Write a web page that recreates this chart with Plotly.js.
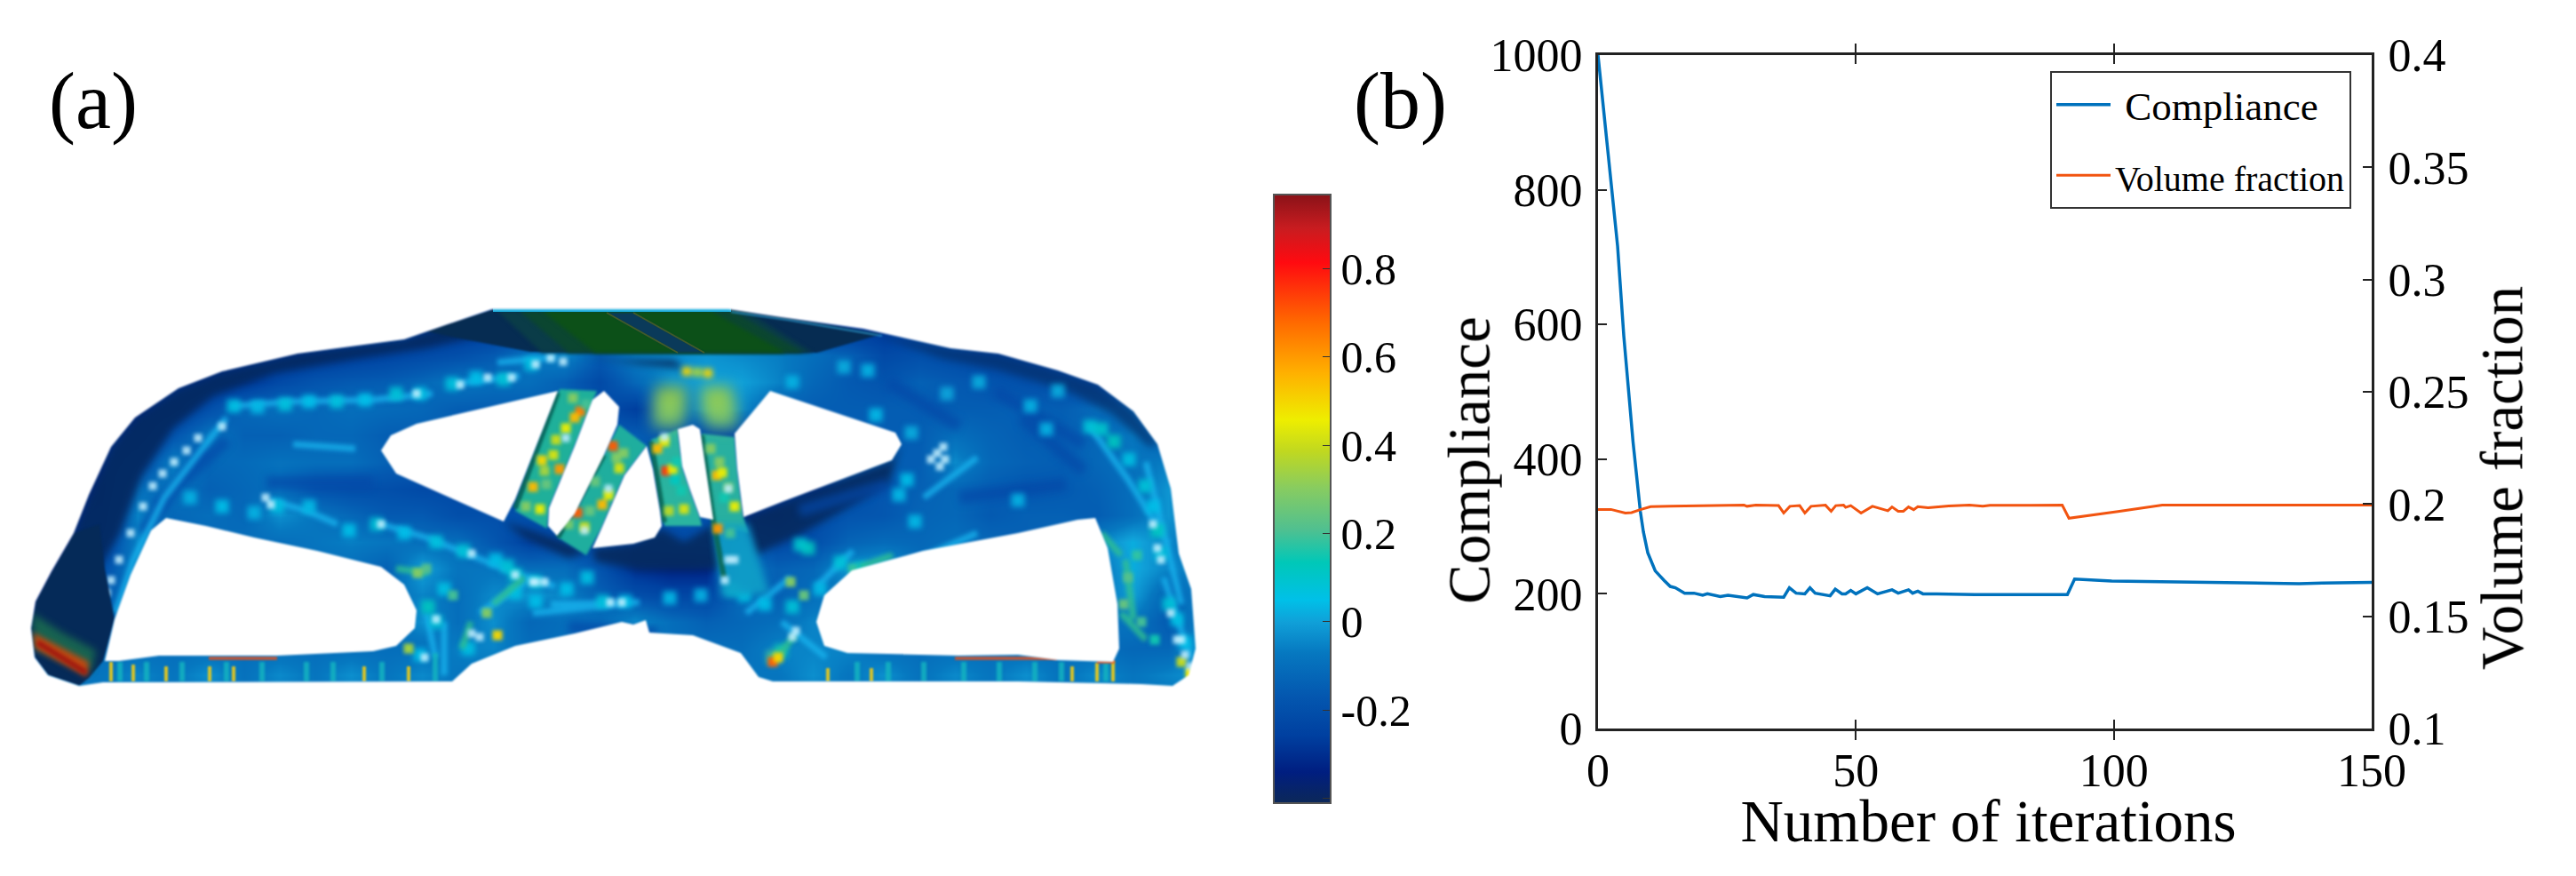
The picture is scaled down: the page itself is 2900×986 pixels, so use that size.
<!DOCTYPE html>
<html><head><meta charset="utf-8">
<script src="https://cdn.plot.ly/plotly-3.0.1.min.js"></script>
<style>html,body{margin:0;padding:0;background:#fff}#p{width:2900px;height:986px}</style>
</head><body><div id="p"></div>
<script>
// ---------- panel (b) data ----------
const compIter=[0,2,3.8,5,6.8,8.2,8.8,9.65,11.1,12.8,14,15,16.8,18.6,20.3,21.2,23.7,25.2,28.9,30.1,32.3,36,37.1,38.4,40.1,41.1,42.1,45,46,47.3,48,49,50,52.2,54.2,57,58.2,60.2,61,62,63,65.7,73,91,92.4,99.6,110,124.3,135.9,140.4,150];
const compVal=[1000,850,716,583,425,323,292,261,234,220,211,209,201,201,198,200,196,198,194,199,196,195,209,201,200,209,201,197,207,200,200,205,200,209,200,206,201,206,201,204,200,200,199,199,222,219,218,216,215,216,217];
const volIter=[0,2.5,5.3,6.5,8.2,10.2,14,19.7,28.3,28.9,30.6,35,36,37.2,39.1,40.1,41.3,44.1,45.2,46.1,47.6,48,49,51,53.2,56.2,57,58.2,59.2,60.2,61.2,62,64,68,72,74.6,76,90,91.3,100.8,105.4,109.4,150];
const volVal=[.1976,.1976,.196,.1962,.1975,.1988,.199,.1993,.1995,.199,.1995,.1993,.196,.199,.1993,.196,.199,.1995,.1968,.1993,.1995,.1985,.1993,.196,.199,.197,.1987,.1968,.1968,.1987,.1975,.1988,.1984,.1991,.1995,.199,.1994,.1995,.1937,.1967,.1982,.1995,.1995];
const xTicks=[0,50,100,150];
const yTicks=[0,200,400,600,800,1000];
const y2Ticks=[.1,.15,.2,.25,.3,.35,.4];
const y2Labels=['0.1','0.15','0.2','0.25','0.3','0.35','0.4'];

// ---------- colour scale of panel (a) ----------
const cMin=-0.41, cMax=0.9685;
const stopVal=[-.41,-.34,-.256,-.165,-.07,0,.05,.135,.21,.304,.387,.458,.565,.678,.815,.893,.9685];
const stopCol=['#0c2858','#001e80','#0040a0','#0458b0','#0678c0','#10a0d8','#00c0e8','#00c8b8','#50c090','#88cc60','#c0d820','#eeee00','#ffb000','#ff6a00','#ff0a10','#c81c20','#8a1218'];
const cbVals=[-.4,-.2,0,.2,.4,.6,.8];
const cbText=['','-0.2','0','0.2','0.4','0.6','0.8'];

// ---------- stress field of panel (a), coarse samples ----------
const fieldX=[35,75,115,155,195,235,275,315,355,395,435,475,515,555,595,635,675,715,755,795,835,875,915,955,995,1035,1075,1115,1155,1195,1235,1275,1315,1355];
const fieldY=[340,370,400,430,460,490,520,550,580,610,640,670,700,730,760,790];
const row340=[-.25,-.25,-.25,-.25,-.25,-.25,-.25,-.25,-.25,-.25,-.25,-.25,-.25,-.25,-.25,-.25,-.25,-.25,-.25,-.25,-.25,-.25,-.25,-.25,-.25,-.25,-.25,-.25,-.25,-.25,-.25,-.25,-.25,-.25];
const row370=[-.28,-.28,-.28,-.28,-.28,-.28,-.28,-.28,-.28,-.28,-.28,-.28,-.28,-.28,-.28,-.28,-.28,-.28,-.28,-.28,-.28,-.28,-.28,-.28,-.28,-.25,-.25,-.25,-.28,-.28,-.28,-.28,-.28,-.28];
const row400=[-.3,-.3,-.3,-.3,-.3,-.3,-.3,-.3,-.28,-.26,-.24,-.22,-.2,-.16,-.08,-.04,-.15,-.06,-.04,-.02,-.04,-.06,-.1,-.14,-.22,-.2,-.22,-.25,-.27,-.3,-.3,-.3,-.3,-.3];
const row430=[-.3,-.3,-.3,-.3,-.3,-.3,-.28,-.22,-.18,-.16,-.15,-.12,-.08,-.1,-.1,-.14,-.22,-.12,-.03,0,0,-.05,-.12,-.16,-.18,-.14,-.16,-.18,-.2,-.2,-.25,-.3,-.3,-.3];
const row460=[-.3,-.3,-.3,-.33,-.28,-.2,-.12,-.1,-.12,-.1,-.11,-.12,-.15,-.15,-.15,-.15,-.2,-.26,-.12,-.02,-.04,-.14,-.15,-.15,-.15,-.15,-.15,-.15,-.14,-.15,-.11,-.14,-.25,-.3];
const row490=[-.32,-.32,-.32,-.3,-.18,-.08,-.14,-.14,-.12,-.12,-.15,-.15,-.15,-.15,-.15,-.15,-.15,-.15,-.2,-.24,-.24,-.2,-.15,-.15,-.15,-.15,-.1,-.13,-.15,-.14,-.12,-.07,-.17,-.3];
const row520=[-.32,-.32,-.32,-.22,-.06,-.12,-.11,-.09,-.1,-.1,-.14,-.15,-.15,-.15,-.15,-.15,-.15,-.15,-.15,-.15,-.15,-.15,-.15,-.15,-.15,-.15,-.04,-.12,-.14,-.15,-.12,-.09,-.06,-.25];
const row550=[-.33,-.33,-.33,-.1,-.08,-.14,-.12,-.1,-.18,-.2,-.2,-.22,-.22,-.22,-.22,-.22,-.22,-.22,-.22,-.22,-.22,-.26,-.3,-.22,-.17,-.14,-.12,-.15,-.17,-.16,-.14,-.1,-.02,-.22];
const row580=[-.33,-.33,-.3,-.05,-.12,-.1,-.12,-.03,-.08,-.12,-.16,-.16,-.2,-.2,-.2,-.2,-.2,-.2,-.2,-.2,-.3,-.3,-.22,-.18,-.17,-.13,-.12,-.16,-.14,-.14,-.15,-.1,-.02,-.12];
const row610=[-.33,-.33,-.25,-.05,-.12,-.12,-.1,-.1,-.08,-.06,-.08,-.1,-.1,-.17,-.25,-.22,-.22,-.25,-.22,-.2,-.15,-.22,-.2,-.13,-.11,-.12,-.1,-.12,-.14,-.12,-.05,.02,-.05,-.08];
const row640=[-.33,-.33,-.2,-.05,-.1,-.1,-.1,-.1,-.1,-.1,-.14,0,-.08,-.08,-.1,-.1,-.18,-.3,-.33,-.33,-.08,-.14,-.12,-.02,.02,-.1,-.1,-.1,-.1,-.1,-.1,.02,-.05,-.06];
const row670=[-.33,-.33,-.15,-.1,-.1,-.1,-.1,-.1,-.1,-.1,-.1,-.05,-.1,-.04,-.03,-.05,-.14,-.2,-.23,-.23,-.1,-.14,-.1,-.06,-.1,-.1,-.1,-.1,-.1,-.1,-.1,0,-.14,-.05];
const row700=[-.3,-.3,-.12,-.1,-.1,-.1,-.1,-.1,-.1,-.1,-.1,-.03,-.1,-.03,-.12,-.1,-.1,-.03,-.1,-.14,-.12,-.1,-.05,-.06,-.1,-.1,-.1,-.1,-.1,-.1,-.1,-.08,-.16,-.04];
const row730=[-.2,-.12,-.1,-.1,-.1,-.1,-.1,-.1,-.1,-.1,-.1,-.1,-.06,-.05,-.1,-.1,-.1,-.1,-.1,-.1,-.1,-.05,-.05,-.05,-.1,-.1,-.1,-.1,-.1,-.1,-.1,-.12,-.12,0];
const row760=[-.08,-.08,-.08,-.05,-.08,-.03,-.09,-.04,-.08,-.03,-.08,-.04,-.08,-.08,-.08,-.08,-.08,-.08,-.08,-.08,-.08,-.08,-.03,-.08,-.03,-.09,-.04,-.08,-.03,-.09,-.04,-.08,-.05,-.02];
const row790=[-.08,-.08,-.08,-.08,-.08,-.08,-.08,-.08,-.08,-.08,-.08,-.08,-.08,-.08,-.08,-.08,-.08,-.08,-.08,-.08,-.08,-.08,-.08,-.08,-.08,-.08,-.08,-.08,-.08,-.08,-.08,-.08,-.08,-.08];
const fieldZ=[row340,row370,row400,row430,row460,row490,row520,row550,row580,row610,row640,row670,row700,row730,row760,row790];

// structure outline and openings
const outerX=[89,54,39,35,40,58,83,100,125,152,201,250,335,402,455,504,554,820,879,972,1070,1124,1191,1236,1276,1303,1318,1327,1341,1346,1338,1320,1285,1146,870,854,834,780,731,727,713,700,647,580,531,509,116];
const outerY=[772,760,740,707,677,643,600,557,503,470,437,418,398,389,382,365,348,348,357,370,392,398,417,433,463,500,550,623,663,730,760,772,770,767,767,762,735,715,712,698,703,700,713,727,747,767,768];
const holeX=[118,129,147,170,187,232,286,357,429,455,469,467,446,420,312,179,134,null,
 429,440,469,628,580,567,513,446,null,
 680,697,695,680,647,627,617,618,647,667,null,
 728,735,743,745,737,713,667,677,703,null,
 763,780,788,793,803,788,777,768,null,
 867,1008,1015,1004,880,837,830,827,null,
 1233,1247,1258,1260,1253,1191,1146,1079,954,928,919,928,959,1039,1146,1213];
const holeY=[744,697,647,597,583,592,605,620,638,658,687,707,727,733,738,738,744,null,
 507,490,477,440,562,587,563,533,null,
 440,458,478,512,578,603,592,572,502,450,null,
 502,528,575,592,605,612,617,595,535,null,
 483,478,483,518,585,582,552,525,null,
 440,487,500,518,565,582,528,488,null,
 583,617,680,730,745,743,737,738,735,727,700,670,642,620,600,585];

// shaded regions
const plateX=[480,510,555,823,887,993,920,597,523];
const plateY=[373,362,348,348,357,376,397,396,382];
const plate1X=[560,840,915,610]; const plate1Y=[350,350,397,397];
const plate2X=[585,825,905,640]; const plate2Y=[350,350,397,397];
const plate3X=[610,800,885,670]; const plate3Y=[350,350,397,397];
const stripeX=[683,713,793,763]; const stripeY=[352,352,397,397];
const stripeEdgeX=[683,763,null,713,793]; const stripeEdgeY=[352,397,null,352,397];
const rimTopX=[555,823,823,555]; const rimTopY=[347,347,351,351];
const rimFuzzX=[823,887,993]; const rimFuzzY=[351,360,378];
const flapX=[83,58,40,35,39,54,89,100,116,129,118,112];
const flapY=[600,643,677,707,740,760,772,763,744,697,640,590];
const flapGreenX=[36,70,108,103,38]; const flapGreenY=[690,712,732,756,730];
const flapRedX=[37,100,98,40]; const flapRedY=[712,745,762,730];
const flapCoreX=[42,97]; const flapCoreY=[723,757];
const arcLeftX=[83,100,125,152,201,250,335,402,455,504,540,480,400,310,240,195,160,135,112];
const arcLeftY=[600,557,503,470,437,418,398,389,382,365,378,392,404,420,446,482,535,600,640];
const arcRightX=[985,1070,1124,1191,1236,1276,1303,1294,1252,1202,1122,1062];
const arcRightY=[376,392,398,417,433,463,500,503,466,440,416,404];
const shadeX=[667,713,745,770,803,815,780,720,670,null,838,1004,1015,1000,900,850,null,567,640,660,640,590,null,650,700,760,770,720];
const shadeY=[617,612,595,610,590,640,642,642,632,null,582,518,500,545,602,625,null,587,612,622,628,605,null,400,405,405,415,410];
const struts1X=[630,672,647,618,616,580]; const struts1Y=[438,440,502,572,595,575];
const struts2X=[697,728,703,677,660,628,647,680]; const struts2Y=[478,502,535,595,625,605,578,512];
const struts3X=[733,763,768,777,788,790,748,743]; const struts3Y=[495,483,525,552,582,592,592,560];
const struts4X=[790,827,830,837,842,803,793]; const struts4Y=[488,492,528,582,600,592,518];
const strutFootX=[803,842,866,812]; const strutFootY=[590,590,668,672];
const strutEdgeX=[628,580,null,680,628,null,733,748,null,790,803,815];
const strutEdgeY=[442,572,null,512,605,null,497,588,null,490,585,650];

// local stress samples on the struts and the web: x, y, value
const spotX=[637,653,647,623,610,613,600,608,630,645,615,592,690,697,685,678,650,658,670,702,640,750,757,748,740,770,753,767,760,807,813,827,808,815,822,810,626,660,694,664,762,800,820,
 480,470,548,560,460,510,
 870,876,1280,1270,1265,1285,1300,960,975,890,905,1330,1340];
const spotY=[482,463,470,512,518,530,548,573,528,448,545,570,502,527,557,568,577,593,542,510,590,530,528,497,505,573,575,552,540,535,532,570,595,560,600,520,495,455,515,575,520,505,548,
 640,645,690,715,730,670,
 745,740,625,650,680,700,720,640,655,655,670,745,758];
const spotV=[.45,.65,.55,.42,.5,.35,.55,.45,.6,.3,.25,.3,.7,.42,.45,.55,.7,.4,.25,.3,.28,.75,.45,.45,.55,.42,.38,.15,.12,.55,.45,.45,.6,.15,.2,.3,.4,.2,.3,.25,.15,.3,.25,
 .22,.3,.3,.5,.35,.2,
 .7,.5,.18,.22,.25,.2,.15,.18,.2,.3,.25,.4,.45];
const broadX=[755,807,752,812]; const broadY=[452,452,465,465]; const broadV=[.36,.36,.3,.3];
const hotX=[773,797,785]; const hotY=[418,420,419]; const hotV=[.5,.5,.35];
const glowX=[263,290,321,348,379,411,446,473,509,536,567,598,214,250,286,312,348,393,424,455,491,522,558,571,580,603,580,603,500,482,491,473,527,638,661,679,1227,1240,1254,1271,1289,1298,1303,1307,1316,1325,1334,1146,1021,1012,910,901,946,968,1030,986,1026,892,950,977,1102,1160,1191,1066,1178,861,892,923,838,825,789,754,704,879,870];
const glowY=[457,458,455,452,452,450,443,443,432,425,427,410,560,570,577,570,570,597,590,600,610,620,630,637,647,655,667,677,663,683,700,737,730,663,650,677,480,483,497,517,547,570,597,623,680,697,723,563,540,557,617,613,633,640,587,467,487,430,413,417,430,457,440,443,483,680,683,663,670,663,670,673,677,733,740];
const glowV=[.06,.04,.07,.05,.07,.05,.08,.06,.07,.05,.08,.06,.03,.05,.03,.06,.04,.05,.08,.05,.07,.08,.05,.08,.1,.08,.06,.05,.06,.12,.08,.05,.06,.05,.06,.07,.08,.1,.12,.06,.08,.05,.12,.07,.08,.06,.05,.03,.05,.04,.12,.1,.08,.1,.04,.04,.02,.03,.02,.03,.02,.03,.02,.01,.03,.05,.08,.04,.06,.08,.03,.04,.05,.15,.2];
const glintX=[120,125,134,147,161,172,183,196,210,223,250,299,305,429,531,580,603,531,540,491,478,620,634,603,576,549,518,469,1055,1048,1064,1062,896,892,1303,1307,1298,1318,1334,1325,820,827,816,600,613,687,700,637,685,658,748,820,1058,1330,1340];
const glintY=[667,653,630,600,570,547,533,520,507,493,480,560,568,590,623,647,655,713,717,697,740,403,407,410,425,425,433,443,510,517,517,503,710,717,617,630,590,690,737,720,630,630,653,655,655,678,678,493,550,597,492,550,525,720,750];

// streaks
const cyanX=[263,330,420,487,null,510,585,null,560,625,null,429,480,530,580,625,null,304,345,380,null,330,400,null,130,150,185,225,255,null,540,600,null,600,700,null,1227,1270,1316,null,1290,1330,null,1100,1040,null,1010,1100,null,920,960,null,840,890,null,480,490,null,500,500,null,1310,1340,null,620,720,null,880,930];
const cyanY=[457,452,450,443,null,432,423,null,408,402,null,590,605,625,645,660,null,563,575,590,null,500,505,null,690,630,560,510,470,null,690,650,null,690,680,null,480,540,613,null,520,680,null,515,560,null,640,600,null,660,620,null,690,650,null,690,740,null,700,760,null,650,740,null,680,678,null,700,740];
const deepX=[1000,1080,null,1120,1220,null,900,1000,null,1080,1200,null,640,740,null,300,420,null,160,230,null,1150,1220,null,175,255];
const deepY=[430,480,null,440,500,null,575,545,null,560,545,null,706,712,null,543,543,null,600,505,null,470,530,null,570,495];
const greenX=[1267,1276,null,446,482,null,968,1005,null,870,895,null,1240,1262,null,555,590,null,530,520,null,1262,1290];
const greenY=[630,697,null,640,645,null,638,625,null,745,715,null,600,625,null,680,650,null,700,730,null,690,720];
const barX=[135,135,null,165,165,null,205,205,null,255,255,null,295,295,null,345,345,null,375,375,null,430,430,null,490,490,null,965,965,null,1000,1000,null,1040,1040,null,1085,1085,null,1125,1125,null,1165,1165,null,1195,1195,null,1245,1245];
const barY=[745,767,null,745,767,null,745,767,null,745,767,null,745,767,null,745,767,null,745,767,null,745,767,null,735,767,null,745,767,null,745,767,null,745,767,null,745,767,null,745,767,null,745,767,null,745,767,null,745,767];
const barHotX=[125,125,null,150,150,null,187,187,null,236,236,null,263,263,null,410,410,null,460,460,null,932,932,null,981,981,null,1207,1207,null,1235,1235,null,1253,1253,null,1338,1338];
const barHotY=[745,767,null,748,767,null,750,767,null,750,767,null,750,767,null,750,767,null,750,767,null,752,767,null,752,767,null,750,767,null,746,767,null,744,767,null,752,767];
const edgeHotX=[235,312,null,1075,1190,null,1235,1255];
const edgeHotY=[741,741,null,741,741,null,745,745];

const panelLabels=['(a)','(b)'];

const cs=stopVal.map((v,i)=>[(v-cMin)/(cMax-cMin),stopCol[i]]);
const poly=(x,y,color,op)=>({type:'scatter',mode:'lines',x,y,xaxis:'x3',yaxis:'y3',fill:'toself',fillcolor:color,line:{width:0,color},opacity:op,showlegend:false,hoverinfo:'skip'});
const streak=(x,y,color,w,op)=>({type:'scatter',mode:'lines',x,y,xaxis:'x3',yaxis:'y3',line:{color,width:w},opacity:op,showlegend:false,hoverinfo:'skip',connectgaps:false});
const pts=(x,y,v,size,sym,op)=>({type:'scatter',mode:'markers',x,y,xaxis:'x3',yaxis:'y3',marker:{color:v,coloraxis:'coloraxis',size,symbol:sym,opacity:op,line:{width:0}},showlegend:false,hoverinfo:'skip'});

const maskX=[0,1392,1392,0,0].concat(outerX,[outerX[0],0]);
const maskY=[986,986,0,0,986].concat(outerY,[outerY[0],986]);

// scatter traces of the left panel, each with the softness of the print
const soft=[
 [poly(arcLeftX,arcLeftY,'#042a62',.95),4],
 [poly(arcRightX,arcRightY,'#05306a',.7),4],
 [poly(shadeX,shadeY,'#062a5e',.9),4],
 [streak(deepX,deepY,'#0448a8',14,.7),4],
 [streak(cyanX,cyanY,'#18b4ee',7,.8),2.5],
 [pts(glowX,glowY,glowV,15,'square',.9),3],
 [streak(greenX,greenY,'#30c090',7,.85),2.5],
 [streak(barX,barY,'#14b4c0',6,.85),1.5],
 [streak(barHotX,barHotY,'#e4c820',4,.95),1.2],
 [streak(edgeHotX,edgeHotY,'#e05020',3.5,.9),1],
 [poly(struts1X,struts1Y,'#1fb09a',1),1.5],
 [poly(struts2X,struts2Y,'#1fae9e',1),1.5],
 [poly(struts3X,struts3Y,'#2ab4a0',1),1.5],
 [poly(struts4X,struts4Y,'#28b0a0',1),1.5],
 [poly(strutFootX,strutFootY,'#10a0c8',.9),4],
 [streak(strutEdgeX,strutEdgeY,'#0a6a58',6,.9),1.5],
 [pts(broadX,broadY,broadV,34,'square',.8),8],
 [pts(hotX,hotY,hotV,10,'square',1),3],
 [pts(spotX,spotY,spotV,11,'square',.95),2.2],
 [{type:'scatter',mode:'markers',x:glintX,y:glintY,xaxis:'x3',yaxis:'y3',marker:{color:'#c4f0ff',size:9,symbol:'square',opacity:.85},showlegend:false,hoverinfo:'skip'},2],
 [poly(plateX,plateY,'#062c52',1),.8],
 [poly(plate1X,plate1Y,'#0a3c48',1),2],
 [poly(plate2X,plate2Y,'#0b4630',1),2],
 [poly(plate3X,plate3Y,'#0c5018',1),2],
 [poly(stripeX,stripeY,'#0a3a5a',1),.8],
 [streak(stripeEdgeX,stripeEdgeY,'#6a6a20',1.5,.6),.6],
 [poly(rimTopX,rimTopY,'#20b0e0',1),.6],
 [streak(rimFuzzX,rimFuzzY,'#30a8e0',2,.7),.8],
 [poly(flapX,flapY,'#052a58',1),1],
 [poly(flapGreenX,flapGreenY,'#1a6a50',.9),4],
 [poly(flapRedX,flapRedY,'#c04a10',1),3],
 [streak(flapCoreX,flapCoreY,'#a01810',6,1),2],
 [poly(maskX,maskY,'#ffffff',1),.9],
 [poly(holeX,holeY,'#ffffff',1),.9]
];
const traces=[
 {type:'heatmap',x:fieldX,y:fieldY,z:fieldZ,xaxis:'x3',yaxis:'y3',coloraxis:'coloraxis',zsmooth:'best',hoverinfo:'skip'},
 ...soft.map(s=>s[0]),
 {type:'scatter',mode:'lines',name:'&nbsp;Compliance',x:compIter,y:compVal,xaxis:'x',yaxis:'y',line:{color:'#0072BD',width:3.5},legendgroup:'a'},
 {type:'scatter',mode:'lines',name:'<span style="font-size:40px">Volume fraction</span>',x:volIter,y:volVal,xaxis:'x',yaxis:'y2',line:{color:'#F25410',width:3},legendgroup:'b'}
];

const W=2900,H=986;
const serif='"Liberation Serif","Times New Roman",serif';
const tf={family:serif,size:52,color:'#000'};
const ax={showgrid:false,zeroline:false,ticks:'inside',ticklen:10,tickwidth:2,tickcolor:'#222',linecolor:'#222',linewidth:3,tickfont:tf,fixedrange:true};
const layout={
 width:W,height:H,margin:{l:0,r:0,t:0,b:0,pad:0},paper_bgcolor:'#fff',plot_bgcolor:'rgba(0,0,0,0)',font:{family:serif,color:'#000'},
 xaxis:Object.assign({},ax,{domain:[1799/W,2670/W],range:[0,150],anchor:'y',tickvals:xTicks,mirror:'allticks',title:{text:'Number of iterations',font:{family:serif,size:67},standoff:8}}),
 yaxis:Object.assign({},ax,{domain:[1-820/H,1-62/H],range:[0,1000],anchor:'x',tickvals:yTicks,title:{text:'Compliance',font:{family:serif,size:67},standoff:4},ticklabelstandoff:4}),
 yaxis2:Object.assign({},ax,{domain:[1-820/H,1-62/H],range:[.1,.4],overlaying:'y',side:'right',anchor:'x',tickvals:y2Ticks,ticktext:y2Labels,title:{text:'Volume fraction',font:{family:serif,size:67},standoff:10},ticklabelstandoff:5}),
 xaxis3:{domain:[0,1392/W],range:[0,1392],visible:false,fixedrange:true,anchor:'y3'},
 yaxis3:{domain:[0,1],range:[986,0],visible:false,fixedrange:true,anchor:'x3'},
 coloraxis:{colorscale:cs,cmin:cMin,cmax:cMax,colorbar:{x:1434/W,xanchor:'left',y:1-218.6/H,yanchor:'top',lenmode:'pixels',len:685.4,thicknessmode:'pixels',thickness:64,xpad:0,ypad:0,outlinecolor:'#555',outlinewidth:2,ticks:'inside',ticklen:10,tickwidth:1,tickcolor:'#333',tickvals:cbVals,ticktext:cbText,tickfont:{family:serif,size:50,color:'#000'}}},
 legend:{x:2308/W,y:1-80/H,xanchor:'left',yanchor:'top',bgcolor:'#fff',bordercolor:'#333',borderwidth:2,font:{family:serif,size:45,color:'#000'},itemwidth:61,tracegroupgap:18,traceorder:'grouped'},
 annotations:[
  {xref:'paper',yref:'paper',x:105/W,y:1-114/H,xanchor:'center',yanchor:'middle',showarrow:false,text:panelLabels[0],font:{family:serif,size:90,color:'#000'}},
  {xref:'paper',yref:'paper',x:1576/W,y:1-114/H,xanchor:'center',yanchor:'middle',showarrow:false,text:panelLabels[1],font:{family:serif,size:90,color:'#000'}}
 ],
 showlegend:true
};
Plotly.newPlot('p',traces,layout,{displayModeBar:false,staticPlot:true}).then(gd=>{
 const shift=(sel,dx,dy)=>{const t=gd.querySelector(sel);if(t)t.setAttribute('transform','translate('+dx+','+dy+') '+(t.getAttribute('transform')||''));};
 shift('.xtitle',4,-9);shift('.ytitle',25,77);shift('.y2title',0,97);
 const g=[...gd.querySelectorAll('.cartesianlayer .subplot.x3y3 .scatterlayer .trace')];
 g.forEach((el,i)=>{if(soft[i]&&soft[i][1]>0)el.style.filter='blur('+soft[i][1]+'px)';});
});
</script></body></html>
